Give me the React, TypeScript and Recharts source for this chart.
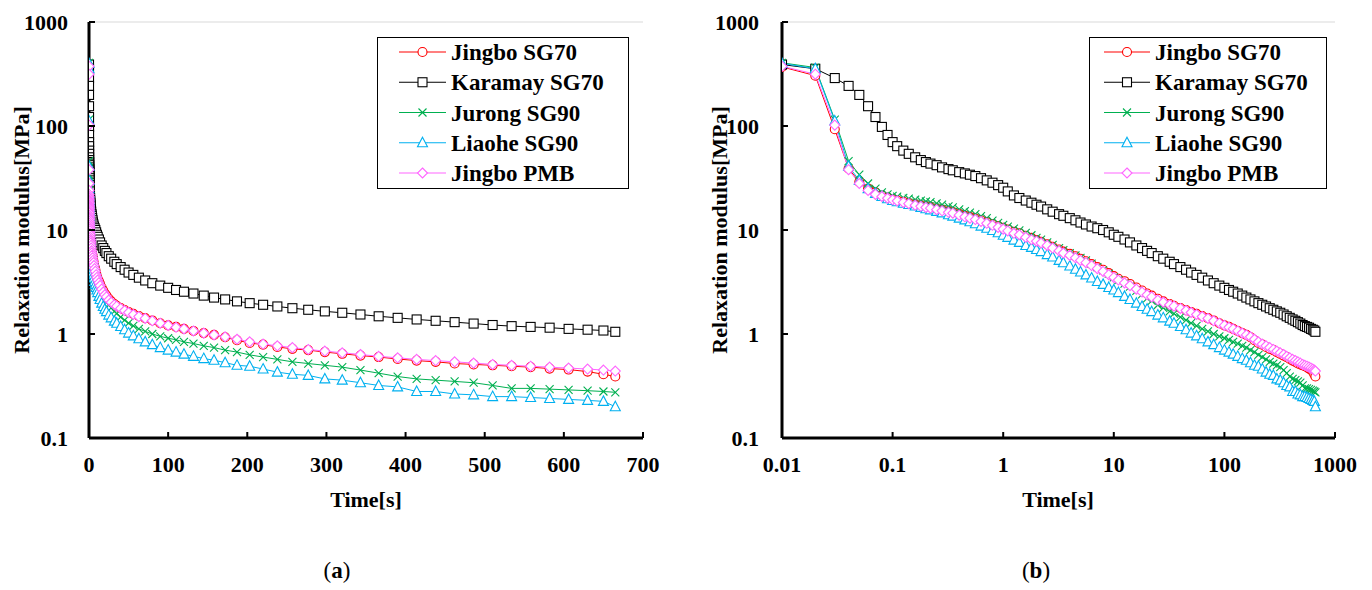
import React from 'react';
import { LineChart, Line, XAxis, YAxis, CartesianGrid, Legend } from 'recharts';

const TIME = [0.01, 0.02, 0.03, 0.04, 0.05, 0.06, 0.07, 0.08, 0.09,
  0.1, 0.11, 0.125, 0.14, 0.16, 0.18, 0.2, 0.22, 0.25, 0.28, 0.32, 0.35, 0.4, 0.45, 0.5, 0.56, 0.63, 0.71, 0.8, 0.9,
  1, 1.1, 1.25, 1.4, 1.6, 1.8, 2, 2.2, 2.5, 2.8, 3.2, 3.5, 4, 4.5, 5, 5.6, 6.3, 7.1, 8, 9,
  10, 11, 12.5, 14, 16, 18, 20, 22, 25, 28, 32, 35, 40, 45, 50, 56, 63, 71, 80, 90,
  100, 110, 120, 132, 145, 158, 172, 187, 203, 220, 238, 257, 277, 298, 320, 343, 366, 390, 414, 438,
  462, 486, 510, 534, 558, 582, 606, 630, 650, 665];

const JINGBO_SG70 = [370, 305, 93, 39, 29, 25, 23, 21.5, 20.5,
  19.8, 19.3, 18.7, 18.1, 17.6, 17.2, 16.8, 16.5, 16.0, 15.6, 15.1, 14.8, 14.2, 13.7, 13.3, 12.9, 12.4, 11.9, 11.4, 10.9,
  10.5, 10.1, 9.6, 9.3, 8.8, 8.4, 8.0, 7.7, 7.3, 6.9, 6.5, 6.2, 5.9, 5.6, 5.3, 5.0, 4.7, 4.4, 4.15, 3.85,
  3.6, 3.4, 3.22, 3.03, 2.8, 2.62, 2.45, 2.34, 2.18, 2.06, 1.94, 1.87, 1.78, 1.7, 1.63, 1.56, 1.49, 1.42, 1.35, 1.27,
  1.21, 1.17, 1.12, 1.07, 1.02, 0.98, 0.93, 0.87, 0.82, 0.79, 0.75, 0.72, 0.7, 0.67, 0.645, 0.62, 0.6, 0.575, 0.555, 0.54,
  0.52, 0.51, 0.5, 0.49, 0.48, 0.465, 0.455, 0.435, 0.41, 0.39];

const KARAMAY_SG70 = [390, 355, 289, 243, 199, 155, 122, 98, 82,
  70, 64, 58, 54, 50, 47, 45, 43.5, 42, 40, 38.5, 37.5, 36, 35, 34, 33, 31.5, 30, 28.5, 27,
  25.5, 23.5, 21.5, 20.3, 19.2, 18.3, 17.5, 16.8, 15.8, 15.0, 14.2, 13.7, 13.0, 12.4, 11.8, 11.3, 10.8, 10.4, 10.0, 9.5,
  9.0, 8.6, 8.1, 7.6, 7.1, 6.7, 6.3, 6.0, 5.6, 5.3, 4.95, 4.7, 4.4, 4.15, 3.9, 3.7, 3.48, 3.27, 3.08, 2.92,
  2.78, 2.65, 2.55, 2.45, 2.34, 2.24, 2.15, 2.06, 1.98, 1.91, 1.84, 1.77, 1.71, 1.65, 1.6, 1.54, 1.48, 1.43, 1.38, 1.34,
  1.3, 1.26, 1.22, 1.19, 1.17, 1.15, 1.12, 1.1, 1.08, 1.05];

const JURONG_SG90 = [405, 365, 115, 46, 34, 28, 25, 23, 22,
  21.3, 20.9, 20.4, 20.0, 19.6, 19.2, 18.8, 18.5, 18.0, 17.5, 16.9, 16.5, 15.8, 15.2, 14.7, 14.2, 13.6, 13.0, 12.3, 11.7,
  11.2, 10.8, 10.3, 9.9, 9.4, 8.9, 8.4, 8.1, 7.6, 7.2, 6.7, 6.4, 6.0, 5.7, 5.4, 5.1, 4.75, 4.4, 4.1, 3.8,
  3.5, 3.3, 3.05, 2.85, 2.6, 2.4, 2.2, 2.08, 1.9, 1.78, 1.65, 1.57, 1.45, 1.36, 1.27, 1.2, 1.12, 1.06, 1.0, 0.95,
  0.91, 0.88, 0.84, 0.81, 0.77, 0.74, 0.7, 0.67, 0.63, 0.6, 0.57, 0.54, 0.52, 0.5, 0.48, 0.45, 0.42, 0.39, 0.37, 0.36,
  0.35, 0.34, 0.32, 0.3, 0.3, 0.295, 0.29, 0.285, 0.28, 0.275];

const LIAOHE_SG90 = [400, 355, 112, 41, 30, 25, 22.5, 21, 20,
  19.2, 18.7, 18.1, 17.6, 17.0, 16.5, 16.0, 15.6, 15.1, 14.6, 14.0, 13.6, 13.0, 12.5, 12.0, 11.5, 10.9, 10.4, 9.9, 9.4,
  8.9, 8.5, 8.0, 7.6, 7.1, 6.8, 6.5, 6.2, 5.8, 5.5, 5.1, 4.85, 4.5, 4.2, 3.95, 3.7, 3.45, 3.2, 3.0, 2.8,
  2.65, 2.5, 2.3, 2.15, 1.98, 1.84, 1.73, 1.64, 1.52, 1.43, 1.33, 1.27, 1.18, 1.1, 1.02, 0.96, 0.9, 0.84, 0.79, 0.74,
  0.7, 0.67, 0.64, 0.61, 0.58, 0.56, 0.53, 0.5, 0.49, 0.46, 0.43, 0.41, 0.4, 0.37, 0.36, 0.34, 0.32, 0.31, 0.28, 0.28,
  0.265, 0.26, 0.25, 0.25, 0.245, 0.24, 0.235, 0.23, 0.225, 0.2];

const JINGBO_PMB = [375, 315, 102, 38, 28, 24, 22, 21, 20.2,
  19.5, 19.0, 18.4, 17.9, 17.3, 16.9, 16.5, 16.2, 15.7, 15.3, 14.8, 14.5, 13.9, 13.4, 13.0, 12.6, 12.1, 11.6, 11.1, 10.6,
  10.2, 9.8, 9.3, 9.0, 8.5, 8.1, 7.8, 7.5, 7.1, 6.7, 6.3, 6.0, 5.7, 5.4, 5.1, 4.85, 4.55, 4.25, 4.0, 3.72,
  3.5, 3.3, 3.1, 2.92, 2.7, 2.53, 2.38, 2.27, 2.12, 2.02, 1.91, 1.85, 1.76, 1.68, 1.61, 1.54, 1.47, 1.41, 1.34, 1.27,
  1.21, 1.16, 1.12, 1.07, 1.02, 0.98, 0.94, 0.89, 0.84, 0.8, 0.77, 0.74, 0.71, 0.685, 0.66, 0.635, 0.61, 0.59, 0.57, 0.555,
  0.54, 0.525, 0.51, 0.5, 0.49, 0.48, 0.47, 0.46, 0.45, 0.44];

const SERIES_NAMES = ['Jingbo SG70', 'Karamay SG70', 'Jurong SG90', 'Liaohe SG90', 'Jingbo PMB'];
const Y_TICKS = [0.1, 1, 10, 100, 1000];
const X_TICKS_LINEAR = [0, 100, 200, 300, 400, 500, 600, 700];
const X_TICKS_LOG = [0.01, 0.1, 1, 10, 100, 1000];
const Y_TITLE = 'Relaxation modulus[MPa]';
const X_TITLE = 'Time[s]';

const FONT = '"Liberation Serif", "Times New Roman", Times, serif';

type Shape = 'circle' | 'square' | 'x' | 'triangle' | 'diamond';

const SERIES: { key: string; name: string; color: string; shape: Shape; values: number[] }[] = [
  { key: 'r', name: SERIES_NAMES[0], color: '#ff0000', shape: 'circle', values: JINGBO_SG70 },
  { key: 'k', name: SERIES_NAMES[1], color: '#000000', shape: 'square', values: KARAMAY_SG70 },
  { key: 'g', name: SERIES_NAMES[2], color: '#00b050', shape: 'x', values: JURONG_SG90 },
  { key: 'b', name: SERIES_NAMES[3], color: '#00b0f0', shape: 'triangle', values: LIAOHE_SG90 },
  { key: 'm', name: SERIES_NAMES[4], color: '#ff66ff', shape: 'diamond', values: JINGBO_PMB },
];

const DATA = TIME.map((t, i) => {
  const row: any = { t };
  SERIES.forEach((s) => { row[s.key] = s.values[i]; });
  return row;
});

function Marker({ cx, cy, shape, color }: { cx: number; cy: number; shape: Shape; color: string }) {
  const sw = 1.1;
  switch (shape) {
    case 'circle':
      return <circle cx={cx} cy={cy} r={4.5} fill="#fff" stroke={color} strokeWidth={sw} />;
    case 'square':
      return <rect x={cx - 4.5} y={cy - 4.5} width={9} height={9} fill="#fff" stroke={color} strokeWidth={sw} />;
    case 'x':
      return <path d={`M${cx - 4} ${cy - 4}L${cx + 4} ${cy + 4}M${cx - 4} ${cy + 4}L${cx + 4} ${cy - 4}`} fill="none" stroke={color} strokeWidth={sw} />;
    case 'triangle':
      return <path d={`M${cx} ${cy - 5.5}L${cx + 5} ${cy + 4}L${cx - 5} ${cy + 4}Z`} fill="#fff" stroke={color} strokeWidth={sw} />;
    case 'diamond':
    default:
      return <path d={`M${cx} ${cy - 5}L${cx + 5} ${cy}L${cx} ${cy + 5}L${cx - 5} ${cy}Z`} fill="#fff" stroke={color} strokeWidth={sw} />;
  }
}

const X_MARGIN = 18;

function XTick(props: any) {
  const { x, y, payload } = props;
  const axisY = y - X_MARGIN;
  return (
    <g>
      <line x1={x} x2={x} y1={axisY} y2={axisY - 6} stroke="#000" strokeWidth={2} />
      <text x={x} y={y} dy="0.71em" textAnchor="middle" fontFamily={FONT} fontWeight="bold" fontSize={22} fill="#000">
        {String(payload.value)}
      </text>
    </g>
  );
}

function makeYTick(margin: number) {
  return function YTick(props: any) {
    const { x, y, payload } = props;
    const axisX = x + margin;
    return (
      <g>
        <line x1={axisX} x2={axisX + 6} y1={y} y2={y} stroke="#000" strokeWidth={2} />
        <text x={x} y={y} dy="0.35em" textAnchor="end" fontFamily={FONT} fontWeight="bold" fontSize={22} fill="#000">
          {String(payload.value)}
        </text>
      </g>
    );
  };
}

function makeLegend(w: number, lineX1: number, lineX2: number, textX: number) {
  return function LegendBox() {
    return (
      <svg width={w} height={152} style={{ display: 'block' }}>
        <rect x={0.5} y={0.5} width={w - 1} height={151} fill="#fff" stroke="#000" strokeWidth={1} />
        {SERIES.map((s, i) => {
          const cy = 15 + i * 30.25;
          return (
            <g key={s.key}>
              <line x1={lineX1} x2={lineX2} y1={cy} y2={cy} stroke={s.color} strokeWidth={1.2} />
              <Marker cx={(lineX1 + lineX2) / 2} cy={cy} shape={s.shape} color={s.color} />
              <text x={textX} y={cy} dy="0.35em" fontFamily={FONT} fontWeight="bold" fontSize={23} fill="#000">
                {s.name}
              </text>
            </g>
          );
        })}
      </svg>
    );
  };
}

function Chart({ logX }: { logX: boolean }) {
  const yW = logX ? 96 : 89;
  const right = logX ? 37 : 43;
  const yMargin = logX ? 23 : 21;
  const xDomain = logX ? [0.01, 1000] : [0, 700];
  const xScale = logX ? 'log' : 'linear';
  const YTick = makeYTick(yMargin);
  const LegendBox = logX ? makeLegend(238, 15, 61, 66) : makeLegend(252, 22, 69, 74);
  const border = { stroke: '#000', strokeWidth: 3 };
  return (
    <LineChart width={686} height={590} data={DATA} margin={{ top: 22, right, bottom: 122, left: 0 }}>
      <CartesianGrid vertical={false} stroke="#d9d9d9" strokeWidth={1} />
      <XAxis
        xAxisId="main"
        dataKey="t"
        type="number"
        scale={xScale}
        domain={xDomain}
        ticks={logX ? X_TICKS_LOG : X_TICKS_LINEAR}
        allowDataOverflow
        interval={0}
        height={30}
        axisLine={border}
        tickLine={false}
        tickSize={0}
        tickMargin={X_MARGIN}
        tick={<XTick />}
      />
      <XAxis
        xAxisId="top"
        orientation="top"
        dataKey="t"
        type="number"
        scale={xScale}
        domain={xDomain}
        allowDataOverflow
        height={0}
        axisLine={border}
        tickLine={false}
        tick={false}
      />
      <YAxis
        yAxisId="main"
        type="number"
        scale="log"
        domain={[0.1, 1000]}
        ticks={Y_TICKS}
        allowDataOverflow
        interval={0}
        width={yW}
        axisLine={border}
        tickLine={false}
        tickSize={0}
        tickMargin={yMargin}
        tick={<YTick />}
      />
      <YAxis
        yAxisId="right"
        orientation="right"
        type="number"
        scale="log"
        domain={[0.1, 1000]}
        allowDataOverflow
        width={0}
        axisLine={border}
        tickLine={false}
        tick={false}
      />
      {SERIES.map((s) => (
        <Line
          key={s.key}
          xAxisId="main"
          yAxisId="main"
          dataKey={s.key}
          name={s.name}
          type="linear"
          stroke={s.color}
          strokeWidth={1}
          isAnimationActive={false}
          activeDot={false}
          dot={(p: any) =>
            p.cx == null || p.cy == null ? (
              <g key={`${s.key}-${p.index}`} />
            ) : (
              <Marker key={`${s.key}-${p.index}`} cx={p.cx} cy={p.cy} shape={s.shape} color={s.color} />
            )
          }
        />
      ))}
      <Legend
        layout="horizontal"
        align="center"
        verticalAlign="middle"
        content={<LegendBox />}
        wrapperStyle={logX ? { left: 403, top: 37, width: 238, height: 152 } : { left: 377, top: 37, width: 252, height: 152 }}
      />
    </LineChart>
  );
}

export default function App() {
  return (
    <div style={{ position: 'absolute', left: 0, top: 0, width: 1372, height: 590, background: '#fff' }}>
      <div style={{ position: 'absolute', left: 0, top: 0 }}>
        <Chart logX={false} />
      </div>
      <div style={{ position: 'absolute', left: 686, top: 0 }}>
        <Chart logX={true} />
      </div>
      <svg width={1372} height={590} style={{ position: 'absolute', left: 0, top: 0, pointerEvents: 'none' }}>
        <g fontFamily={FONT} fill="#000">
          <text x={21} y={230} dy="0.35em" textAnchor="middle" transform="rotate(-90 21 230)" fontWeight="bold" fontSize={22}>{Y_TITLE}</text>
          <text x={719} y={230} dy="0.35em" textAnchor="middle" transform="rotate(-90 719 230)" fontWeight="bold" fontSize={22}>{Y_TITLE}</text>
          <text x={366} y={507} textAnchor="middle" fontWeight="bold" fontSize={22}>{X_TITLE}</text>
          <text x={1058} y={507} textAnchor="middle" fontWeight="bold" fontSize={22}>{X_TITLE}</text>
          <text x={337} y={578} textAnchor="middle" fontSize={23}>(<tspan fontWeight="bold">a</tspan>)</text>
          <text x={1036} y={578} textAnchor="middle" fontSize={23}>(<tspan fontWeight="bold">b</tspan>)</text>
        </g>
      </svg>
    </div>
  );
}
